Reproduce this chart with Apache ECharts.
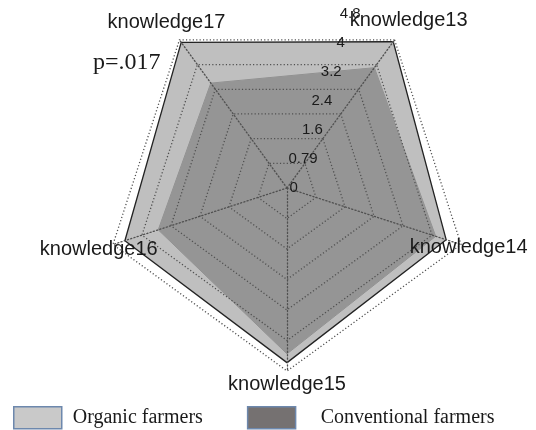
<!DOCTYPE html>
<html>
<head>
<meta charset="utf-8">
<script src="https://cdn.jsdelivr.net/npm/echarts@6/dist/echarts.min.js"></script>
<style>html,body{margin:0;padding:0;background:#fff}#c{width:536px;height:430px}</style>
</head>
<body>
<div id="c"></div>
<script>
// indicators in drawing order (counter-clockwise from upper right)
var categories = ['knowledge13', 'knowledge17', 'knowledge16', 'knowledge15', 'knowledge14'];
var organic = [4.72, 4.7, 4.45, 4.56, 4.37];
var conventional = [3.9, 3.4, 3.55, 4.35, 4.1];
var tickLabels = ['0', '0.79', '1.6', '2.4', '3.2', '4', '4.8'];
var nameGaps = [24, 22, 15, 13, 8];
var maxValue = 4.8;

var chart = echarts.init(document.getElementById('c'), null, {renderer: 'canvas'});
var dotted = {color: '#505050', width: 1.3, type: [1.2, 2.2]};

var option = {
  animation: false,
  title: {
    text: 'p=.017', left: 88, top: 46,
    textStyle: {fontFamily: 'Liberation Serif', fontSize: 24, fontWeight: 'normal', color: '#1a1a1a'}
  },
  legend: {
    data: ['Organic farmers', 'Conventional farmers'],
    left: 8, top: 401, itemWidth: 48, itemHeight: 22, itemGap: 44,
    icon: 'rect',
    itemStyle: {borderColor: '#6d88ad', borderWidth: 1.5},
    formatter: function (n) { return n === 'Organic farmers' ? '{a|' + n + '}' : '{b|' + n + '}'; },
    textStyle: {
      fontFamily: 'Liberation Serif', fontSize: 20, color: '#1a1a1a',
      rich: {
        a: {fontFamily: 'Liberation Serif', fontSize: 20, color: '#1a1a1a', padding: [0, 0, 0, 6]},
        b: {fontFamily: 'Liberation Serif', fontSize: 20, color: '#1a1a1a', padding: [0, 0, 0, 20]}
      }
    }
  },
  radar: [{
    center: [287, 188], radius: 183, startAngle: 54, shape: 'polygon',
    splitNumber: 6, z: 5,
    indicator: categories.map(function (c, i) { return {name: c, min: 0, max: maxValue, nameGap: nameGaps[i]}; }),
    axisName: {color: '#1a1a1a', fontFamily: 'Liberation Sans', fontSize: 20, align: 'center', verticalAlign: 'middle'},
    splitLine: {lineStyle: dotted},
    splitArea: {show: false},
    axisLine: {lineStyle: dotted},
    axisTick: {show: false},
    axisLabel: {show: false}
  }, {
    center: [285, 185], radius: 183, startAngle: 72, shape: 'polygon',
    splitNumber: 6, z: 6,
    indicator: categories.map(function (c, i) {
      var o = {name: '', min: 0, max: maxValue};
      if (i === 0) o.axisLabel = {show: true};
      return o;
    }),
    axisName: {show: false},
    splitLine: {show: false},
    splitArea: {show: false},
    axisLine: {show: false},
    axisTick: {show: false},
    axisLabel: {
      show: false, margin: -9, align: 'center', verticalAlign: 'middle',
      fontFamily: 'Liberation Sans', fontSize: 15, color: '#1a1a1a',
      formatter: function (v, idx) { return tickLabels[idx]; }
    }
  }],
  series: [{
    type: 'radar', radarIndex: 0, name: 'Organic farmers', z: 2,
    symbol: 'none',
    itemStyle: {color: '#c9c9c9'},
    lineStyle: {color: '#222', width: 2.6},
    areaStyle: {color: '#bfbfbf', opacity: 1},
    data: [{value: organic, name: 'Organic farmers'}]
  }, {
    type: 'radar', radarIndex: 0, name: 'Conventional farmers', z: 3,
    symbol: 'none',
    itemStyle: {color: '#757171'},
    lineStyle: {color: '#8f8f8f', width: 1},
    areaStyle: {color: '#959595', opacity: 1},
    data: [{value: conventional, name: 'Conventional farmers'}]
  }]
};
chart.setOption(option);
</script>
</body>
</html>
